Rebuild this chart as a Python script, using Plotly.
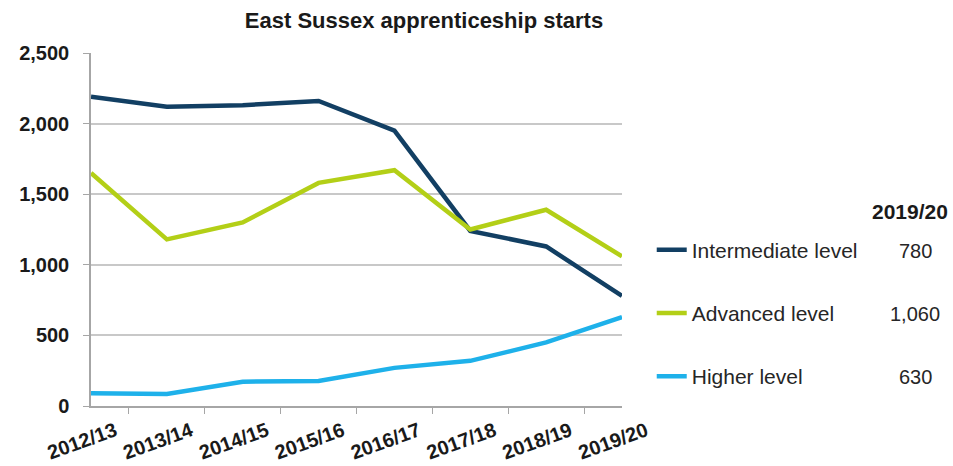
import plotly.graph_objects as go

years = ["2012/13", "2013/14", "2014/15", "2015/16", "2016/17", "2017/18", "2018/19", "2019/20"]
intermediate = [2190, 2120, 2130, 2160, 1950, 1240, 1130, 780]
advanced = [1650, 1180, 1300, 1580, 1670, 1250, 1390, 1060]
higher = [90, 85, 172, 177, 270, 320, 450, 630]
names = ["Intermediate level", "Advanced level", "Higher level"]
colors = ["#123f63", "#b3cf17", "#1eb1ea"]
y_ticks = [0, 500, 1000, 1500, 2000, 2500]

series = [intermediate, advanced, higher]
fig = go.Figure()
for i, (nm, vals, c) in enumerate(zip(names, series, colors)):
    fig.add_trace(go.Scatter(x=years, y=vals, mode="lines", name=nm,
                             line=dict(color=c, width=4.5), legendgroup=str(i)))

font_family = "Liberation Sans, Arial, sans-serif"
fig.update_layout(
    width=953, height=466,
    margin=dict(l=91, r=331, t=53, b=60, autoexpand=False),
    paper_bgcolor="white", plot_bgcolor="white",
    title=dict(text="<b>East Sussex apprenticeship starts</b>", x=424 / 953, xanchor="center",
               y=1 - 20 / 466, yanchor="middle",
               font=dict(family=font_family, size=22, color="#1a1a1a")),
    font=dict(family=font_family, color="#1a1a1a"),
    showlegend=True,
    legend=dict(x=1.056, y=0.5, xanchor="left", yanchor="top",
                font=dict(family=font_family, size=21, color="#262626"),
                tracegroupgap=33, bgcolor="rgba(0,0,0,0)"),
    xaxis=dict(type="category", tickson="boundaries", ticks="outside", ticklen=6,
               tickcolor="#a6a6a6", showline=True, linecolor="#a6a6a6", linewidth=1.5,
               showgrid=False, tickangle=-20, ticklabelshift=24, ticklabelstandoff=4,
               tickfont=dict(family=font_family, size=20, color="#1a1a1a", weight="bold")),
    yaxis=dict(range=[0, 2500], tickvals=y_ticks, tickformat=",", ticks="outside", ticklen=6,
               tickcolor="#a6a6a6", showline=True, linecolor="#a6a6a6", linewidth=1.5,
               showgrid=True, gridcolor="#c8c8c8", gridwidth=1.5, zeroline=False,
               ticklabelstandoff=10,
               tickfont=dict(family=font_family, size=20, color="#1a1a1a", weight="bold")),
)

# 2019/20 value column
fig.add_annotation(text="<b>2019/20</b>", xref="paper", yref="paper",
                   x=(910 - 91) / 531, y=(406 - 212) / 353, showarrow=False,
                   xanchor="center", yanchor="middle",
                   font=dict(family=font_family, size=21, color="#1a1a1a"))
for i, vals in enumerate(series):
    fig.add_annotation(text=f"{vals[-1]:,}", xref="paper", yref="paper",
                       x=(915 - 91) / 531, y=(406 - (251 + 63 * i)) / 353, showarrow=False,
                       xanchor="center", yanchor="middle",
                       font=dict(family=font_family, size=20, color="#262626"))

fig.write_html("out.html", post_script="document.body.style.margin='0';",
               config={"displayModeBar": False})
